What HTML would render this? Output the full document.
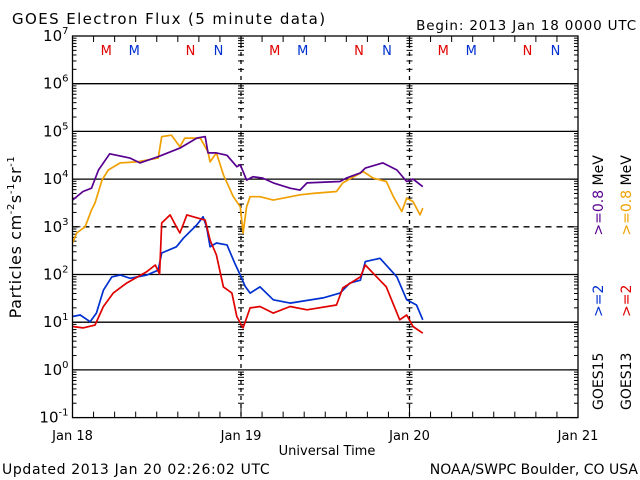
<!DOCTYPE html>
<html><head><meta charset="utf-8"><style>
html,body{margin:0;padding:0;background:#fff;}
svg{display:block;font-family:"DejaVu Sans","Liberation Sans",sans-serif;}
</style></head><body>
<svg id="chart" width="640" height="480" viewBox="0 0 640 480">
<text x="12" y="24" font-size="15" letter-spacing="1.4">GOES Electron Flux (5 minute data)</text>
<text x="637" y="30" font-size="13.5" letter-spacing="0.85" text-anchor="end">Begin: 2013 Jan 18 0000 UTC</text>
<text transform="translate(21,237) rotate(-90)" font-size="16" letter-spacing="0.6" text-anchor="middle">Particles cm<tspan dy="-7" font-size="10">-2</tspan><tspan dy="7">s</tspan><tspan dy="-7" font-size="10">-1</tspan><tspan dy="7">sr</tspan><tspan dy="-7" font-size="10">-1</tspan></text>
<text x="327" y="455" font-size="13" text-anchor="middle">Universal Time</text>
<text x="2" y="474" font-size="14" letter-spacing="0.65">Updated 2013 Jan 20 02:26:02 UTC</text>
<text x="638" y="474" font-size="14" text-anchor="end">NOAA/SWPC Boulder, CO USA</text>
<g id="plot"></g>
</svg>
<script>
const dayLabels = ["Jan 18","Jan 19","Jan 20","Jan 21"];
const decadeExps = [-1,0,1,2,3,4,5,6,7];
const purpleHours = [0,1.5,2.7,3.7,5.3,8.2,9.6,12.2,15.3,17.7,18.9,19.3,20.5,22,23.4,23.9,24.8,25.7,27.1,28.6,31,32.4,33.4,38.1,39,41,41.7,44.2,46.2,47.6,48.5,49.9];
const purpleLog = [3.56,3.74,3.81,4.19,4.53,4.44,4.34,4.47,4.65,4.86,4.89,4.55,4.55,4.5,4.26,4.3,3.98,4.05,4.02,3.92,3.81,3.77,3.92,3.95,4.02,4.13,4.23,4.34,4.19,3.95,4.0,3.84];
const orangeHours = [0,0.6,1.8,2.7,3.2,4.2,5.1,6.8,9.1,12.2,12.7,14.1,15.3,16,18.2,19.3,19.6,20.5,21.5,22.9,23.9,24.3,24.8,25.3,26.7,28.6,32.4,34.3,37.6,38.5,41.4,42.8,44.7,45.7,46.9,47.6,48.5,49.5,49.9];
const orangeLog = [2.66,2.87,3.0,3.35,3.5,3.98,4.19,4.34,4.36,4.44,4.89,4.92,4.68,4.86,4.86,4.57,4.36,4.55,4.09,3.63,3.42,2.87,3.42,3.63,3.63,3.56,3.67,3.7,3.74,3.92,4.16,4.02,3.95,3.63,3.32,3.6,3.53,3.25,3.39];
const blueHours = [0,1.1,2.5,3.4,4.4,5.6,6.8,8.2,10.6,12.2,12.7,14.8,15.8,17.7,18.6,19.1,19.6,20.5,22,23.1,23.9,24.6,25.3,26.7,28.6,31,35.7,38.1,39.5,41,41.7,43.8,46.2,47.6,49,49.9];
const blueLog = [1.12,1.15,1.01,1.19,1.67,1.95,1.99,1.92,1.99,2.09,2.45,2.58,2.76,3.04,3.21,3.0,2.58,2.66,2.62,2.24,1.99,1.75,1.61,1.74,1.47,1.4,1.51,1.61,1.82,1.88,2.27,2.34,1.95,1.47,1.36,1.05];
const redHours = [0,1.5,3.2,4.4,5.8,7.7,10.6,11.8,12.4,12.7,13.9,14.8,15.3,16.3,17.9,18.9,19.6,20.5,21.5,22.7,23.4,24.3,25.3,26.7,28.6,31,33.4,37.6,38.5,41,41.7,42.8,44.7,46.6,47.6,48.5,49.9];
const redLog = [0.91,0.88,0.94,1.33,1.61,1.82,2.06,2.2,2.01,3.08,3.25,3.0,2.87,3.25,3.18,3.14,2.72,2.41,1.74,1.61,1.12,0.88,1.3,1.33,1.19,1.33,1.26,1.36,1.72,1.95,2.2,2.03,1.74,1.05,1.15,0.91,0.77];
const markerLetters = ["M","M","N","N"];
const markerColors = ["#e00000","#0030d0","#e00000","#0030d0"];
const markerHours = [4.8,8.8,16.8,20.8];

const X0=72.5, DAY=168.5, YTOP=36, DEC=47.7;
const xs = h => X0 + h/24*DAY;
const ys = l => YTOP + (7-l)*DEC;
const NS="http://www.w3.org/2000/svg";
const plot=document.getElementById('plot');
function el(tag,attrs,parent){const e=document.createElementNS(NS,tag);for(const k in attrs)e.setAttribute(k,attrs[k]);(parent||plot).appendChild(e);return e;}
const XR = xs(72), YB = ys(-1);

decadeExps.forEach(e=>{
  if(e===-1||e===7)return;
  const g=el('line',{x1:X0,x2:XR,y1:ys(e),y2:ys(e),stroke:'#000','stroke-width':1.3});
  if(e===3)g.setAttribute('stroke-dasharray','6,5');
  
  
});
decadeExps.forEach(e=>{
  const t=el('text',{x:X0-4,y:ys(e)+5,'font-size':15,'text-anchor':'end'});
  t.innerHTML='10<tspan dy="-7" font-size="10">'+e+'</tspan>';
  
  
  if(e<7){
    for(let m=2;m<=9;m++){
      const y=ys(e+Math.log10(m));
      [X0, XR].forEach((x,i)=>{el('line',{x1:x,x2:x+(i?-4:4),y1:y,y2:y,stroke:'#000','stroke-width':1});});
      [1,2].forEach(d=>{const xd=xs(d*24);el('line',{x1:xd-3,x2:xd+3,y1:y,y2:y,stroke:'#000','stroke-width':1});});
    }
  }
  [X0,XR].forEach((x,i)=>el('line',{x1:x,x2:x+(i?-8:8),y1:ys(e),y2:ys(e),stroke:'#000','stroke-width':1}));
});
[1,2].forEach(d=>{
  const l=el('line',{x1:xs(d*24),x2:xs(d*24),y1:YTOP,y2:YB,stroke:'#000','stroke-width':1.3,'stroke-dasharray':'4,4'});
  
  
});
for(let h=0;h<=72;h+=3){
  const x=xs(h), len=(h%24===0)?10:6;
  el('line',{x1:x,x2:x,y1:YB,y2:YB-len,stroke:'#000','stroke-width':1});
  el('line',{x1:x,x2:x,y1:YTOP,y2:YTOP+len,stroke:'#000','stroke-width':1});
}
dayLabels.forEach((s,i)=>{
  const t=el('text',{x:xs(i*24),y:440,'font-size':13,'text-anchor':'middle'});
  t.textContent=s;
  
  
});
for(let d=0;d<3;d++){
  markerLetters.forEach((m,i)=>{
    const t=el('text',{x:xs(d*24+markerHours[i]),y:55,'font-size':13,'text-anchor':'middle',fill:markerColors[i]});
    t.textContent=m;
    
    
  });
}
function series(hours,logs,color,name){
  const d=hours.map((h,i)=>(i?'L':'M')+xs(h).toFixed(1)+','+ys(logs[i]).toFixed(1)).join('');
  const p=el('path',{d:d,fill:'none',stroke:color,'stroke-width':1.7,'stroke-linejoin':'round'});
  
  
}
series(orangeHours,orangeLog,'#f0a000','series-goes13-0.8mev');
series(purpleHours,purpleLog,'#580090','series-goes15-0.8mev');
series(blueHours,blueLog,'#0030d0','series-goes15-2mev');
series(redHours,redLog,'#e00000','series-goes13-2mev');
const fr=el('rect',{x:X0,y:YTOP,width:XR-X0,height:YB-YTOP,fill:'none',stroke:'#000','stroke-width':1.3});


function leg(x,parts,name){
  const t=el('text',{transform:'translate('+x+',410) rotate(-90)','font-size':14});
  t.innerHTML=parts.map(p=>'<tspan fill="'+p[1]+'">'+p[0]+'</tspan>').join('');
  
  
}
leg(603,[['GOES15','#000'],['\u00a0\u00a0\u00a0\u00a0\u00a0\u00a0\u00a0\u00a0>=2','#0030d0'],['\u00a0\u00a0\u00a0\u00a0\u00a0\u00a0\u00a0\u00a0\u00a0\u00a0\u00a0>=0.8','#580090'],['\u00a0MeV','#000']],'legend-goes15');
leg(631,[['GOES13','#000'],['\u00a0\u00a0\u00a0\u00a0\u00a0\u00a0\u00a0\u00a0>=2','#e00000'],['\u00a0\u00a0\u00a0\u00a0\u00a0\u00a0\u00a0\u00a0\u00a0\u00a0\u00a0>=0.8','#f0a000'],['\u00a0MeV','#000']],'legend-goes13');
</script>
</body></html>
